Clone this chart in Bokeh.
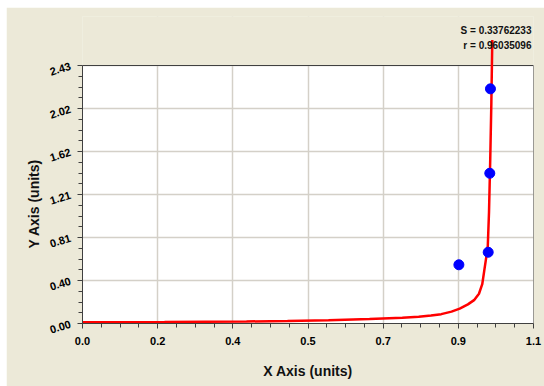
from bokeh.plotting import figure
from bokeh.models import FixedTicker, BoxAnnotation, Label, Range1d, Title
from bokeh.embed import file_html
from bokeh.resources import INLINE

# ---- data ----
x_max = 1.1
y_max = 2.43
x_tick_labels = ["0.0", "0.2", "0.4", "0.5", "0.7", "0.9", "1.1"]
y_tick_labels = ["0.00", "0.40", "0.81", "1.21", "1.62", "2.02", "2.43"]

points_x = [0.918, 0.9895, 0.9934, 0.995]
points_y = [0.553, 0.671, 1.415, 2.21]

curve_x = [0.0, 0.2, 0.4, 0.5, 0.6, 0.7, 0.78, 0.82, 0.85, 0.875, 0.9, 0.92,
           0.94, 0.955, 0.967, 0.975, 0.980, 0.985, 0.9885, 0.9915, 0.9945,
           0.9972, 0.9995]
curve_y = [0.011, 0.014, 0.019, 0.024, 0.031, 0.042, 0.054, 0.063, 0.075,
           0.088, 0.112, 0.14, 0.18, 0.22, 0.28, 0.37, 0.50, 0.63, 0.73,
           1.05, 1.55, 2.08, 2.67]

stats_text = ["S = 0.33762233", "r = 0.96035096"]
x_title = "X Axis (units)"
y_title = "Y Axis (units)"

# ---- layout / style ----
BEIGE = "#ECE9D8"
W, H = 538, 379
B_LEFT, B_RIGHT, B_TOP, B_BOTTOM = 76, 11, 9, 63
frame_h = H - B_TOP - B_BOTTOM
area_h = 258  # pixel height of the white plotting area
n_div = 6
x_ticks = [x_max * i / n_div for i in range(n_div + 1)]
y_ticks = [y_max * i / n_div for i in range(n_div + 1)]
x_minor = [x_max * i / (n_div * 4) for i in range(n_div * 4 + 1) if i % 4]
y_minor = [y_max * i / (n_div * 4) for i in range(n_div * 4 + 1) if i % 4]
y_view_top = y_max * frame_h / area_h

p = figure(width=W, height=H, output_backend="svg", toolbar_location=None,
           x_range=Range1d(0, x_max), y_range=Range1d(0, y_view_top),
           min_border_left=B_LEFT, min_border_right=B_RIGHT,
           min_border_top=B_TOP, min_border_bottom=B_BOTTOM,
           margin=(7, 0, 0, 6))
p.background_fill_color = BEIGE
p.border_fill_color = BEIGE
p.outline_line_color = None

# white plotting area
p.quad(left=[0], right=[x_max], bottom=[0], top=[y_max], fill_color="white",
       line_color=None, level="image")
# grids
p.xgrid.ticker = FixedTicker(ticks=x_ticks)
p.ygrid.ticker = FixedTicker(ticks=y_ticks)
for g in (p.xgrid, p.ygrid):
    g.grid_line_color = "#D4D0C8"
    g.grid_line_width = 1.5
p.add_layout(BoxAnnotation(bottom=y_max, fill_color=BEIGE, fill_alpha=1.0,
                           line_color=None, level="underlay"))
# frame border
p.quad(left=[0], right=[x_max], bottom=[0], top=[y_max], fill_alpha=0,
       line_color="#404040", line_width=1)

# axes
p.xaxis.ticker = FixedTicker(ticks=x_ticks, minor_ticks=x_minor)
p.yaxis.ticker = FixedTicker(ticks=y_ticks, minor_ticks=y_minor)
p.xaxis.major_label_overrides = dict(zip(x_ticks, x_tick_labels))
p.yaxis.major_label_overrides = dict(zip(y_ticks, y_tick_labels))
p.yaxis.bounds = (0, y_max)
p.yaxis.major_label_orientation = 0.3
for ax in (p.xaxis, p.yaxis):
    ax.axis_line_color = "#404040"
    ax.major_tick_line_color = "#404040"
    ax.minor_tick_line_color = "#404040"
    ax.major_tick_in = 0
    ax.major_tick_out = 5
    ax.minor_tick_in = 0
    ax.minor_tick_out = 4
    ax.major_label_text_font = "Liberation Sans"
    ax.major_label_text_font_style = "bold"
    ax.major_label_text_font_size = "11px"
    ax.major_label_text_color = "#000000"
    ax.axis_label_text_font = "Liberation Sans"
    ax.axis_label_text_font_style = "bold"
    ax.axis_label_text_font_size = "14px"
    ax.axis_label_text_color = "#111111"
p.xaxis.axis_label = x_title
p.xaxis.major_label_standoff = 8
p.xaxis.axis_label_standoff = 15
p.yaxis.major_label_standoff = 7

# y-axis title, centred on the white plotting area
p.add_layout(Title(text=y_title, align="left", offset=75, standoff=6,
                   text_font="Liberation Sans", text_font_style="bold",
                   text_font_size="14px", text_color="#111111"), "left")

# fitted curve and data points
p.line(curve_x, curve_y, line_color="#FF0000", line_width=2.5)
p.scatter(points_x, points_y, size=10, fill_color="#0000FF",
          line_color="#0000FF")

# statistics text
for i, t in enumerate(stats_text):
    p.add_layout(Label(x=x_max * 0.9955, y=y_max + 0.329 - i * 0.137, text=t,
                       text_align="right", text_baseline="middle",
                       text_font="Liberation Sans",
                       text_font_style="bold", text_font_size="10px",
                       text_color="#111111"))

open("out.html", "w").write(file_html(p, INLINE))
